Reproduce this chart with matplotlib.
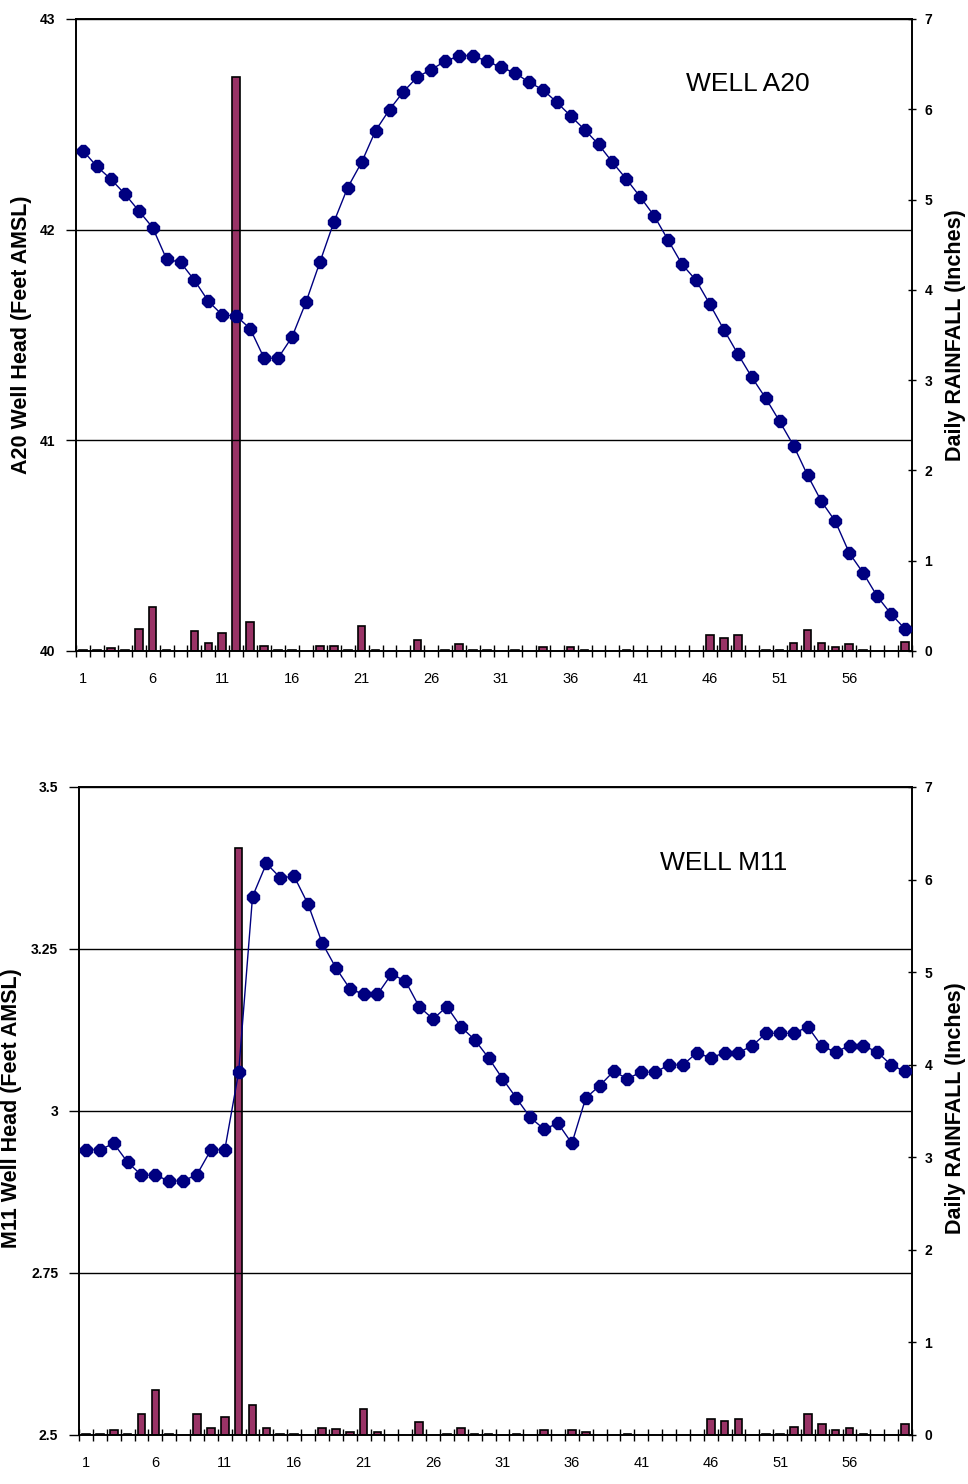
"""
Well head vs daily rainfall, wells A20 and M11 (two stacked Excel-style panels).
"""
import numpy as np
import matplotlib
matplotlib.use("Agg")
import matplotlib.pyplot as plt

plt.rcParams["font.family"] = ["Liberation Sans", "DejaVu Sans"]

days = np.arange(1, 61)

a20_head = [42.375, 42.30, 42.24, 42.17, 42.09, 42.01, 41.86, 41.845, 41.76, 41.66,
            41.595, 41.59, 41.53, 41.39, 41.39, 41.49, 41.655, 41.845, 42.035, 42.20,
            42.32, 42.47, 42.57, 42.655, 42.725, 42.76, 42.80, 42.825, 42.825, 42.80,
            42.77, 42.745, 42.70, 42.665, 42.605, 42.54, 42.475, 42.405, 42.32, 42.24,
            42.155, 42.065, 41.95, 41.835, 41.76, 41.645, 41.525, 41.41, 41.30, 41.20,
            41.09, 40.975, 40.835, 40.71, 40.615, 40.465, 40.37, 40.26, 40.175, 40.105]

a20_rain = [0.01, 0.01, 0.03, 0.01, 0.24, 0.49, 0.01, 0, 0.22, 0.085,
            0.20, 6.36, 0.32, 0.06, 0.01, 0.01, 0, 0.06, 0.05, 0.01,
            0.28, 0.01, 0, 0, 0.12, 0, 0.01, 0.08, 0.01, 0.01,
            0, 0.01, 0, 0.04, 0, 0.04, 0.01, 0, 0, 0.01,
            0, 0, 0, 0, 0, 0.18, 0.14, 0.18, 0, 0.01,
            0.01, 0.09, 0.23, 0.09, 0.04, 0.08, 0.01, 0, 0, 0.10]

m11_head = [2.940, 2.940, 2.950, 2.921, 2.901, 2.901, 2.892, 2.892, 2.902, 2.940,
            2.940, 3.060, 3.331, 3.382, 3.360, 3.362, 3.319, 3.260, 3.221, 3.189,
            3.180, 3.180, 3.211, 3.201, 3.161, 3.142, 3.161, 3.130, 3.110, 3.082,
            3.050, 3.020, 2.990, 2.972, 2.981, 2.950, 3.020, 3.039, 3.061, 3.050,
            3.060, 3.060, 3.071, 3.071, 3.090, 3.082, 3.090, 3.090, 3.101, 3.120,
            3.120, 3.120, 3.130, 3.100, 3.091, 3.101, 3.101, 3.091, 3.071, 3.061]

m11_rain = [0.01, 0.01, 0.05, 0.01, 0.23, 0.49, 0.01, 0, 0.23, 0.075,
            0.19, 6.34, 0.32, 0.075, 0.01, 0.01, 0, 0.075, 0.06, 0.035,
            0.28, 0.035, 0, 0, 0.14, 0, 0.01, 0.075, 0.01, 0.01,
            0, 0.01, 0, 0.05, 0, 0.05, 0.035, 0, 0, 0.01,
            0, 0, 0, 0, 0, 0.17, 0.15, 0.17, 0, 0.01,
            0.01, 0.09, 0.23, 0.115, 0.05, 0.075, 0.01, 0, 0, 0.115]

xlabels = [1, 6, 11, 16, 21, 26, 31, 36, 41, 46, 51, 56]

panels = [
    dict(rect=[76/968, 1-651/1484, 836/968, 632/1484], head=a20_head, rain=a20_rain,
         ylim=(40, 43), yticks=[40, 41, 42, 43], ytl=["40", "41", "42", "43"],
         ylabel="A20 Well Head (Feet AMSL)", ylx=22, yrx=956, ly=335,
         title="WELL A20", tx=748, ty=84),
    dict(rect=[79/968, 1-1435/1484, 833/968, 648/1484], head=m11_head, rain=m11_rain,
         ylim=(2.5, 3.5), yticks=[2.5, 2.75, 3.0, 3.25, 3.5],
         ytl=["2.5", "2.75", "3", "3.25", "3.5"],
         ylabel="M11 Well Head (Feet AMSL)", ylx=12, yrx=956, ly=1108,
         title="WELL M11", tx=724, ty=863),
]

fig = plt.figure(figsize=(9.68, 14.84), dpi=100)

for p in panels:
    ax = fig.add_axes(p["rect"])
    ax2 = ax.twinx()
    ax.set_zorder(ax2.get_zorder() + 1)
    ax.patch.set_visible(False)

    # rainfall bars (behind the head line)
    rain = np.array(p["rain"])
    m = rain > 0
    ax2.bar(days[m], rain[m], width=0.55, color="#993366", edgecolor="black", linewidth=1.2)
    ax2.set_ylim(0, 7)
    ax2.set_yticks(range(8))
    ax2.set_yticklabels([str(i) for i in range(8)], fontsize=10, fontweight="bold")
    ax2.tick_params(axis="y", direction="inout", length=6, width=1, pad=6)

    # well head line
    ax.plot(days, p["head"], color="#000080", lw=1.0, marker="8", ms=9,
            mfc="#000080", mec="#000080", zorder=3)
    ax.set_xlim(0.5, 60.5)
    ax.set_ylim(*p["ylim"])
    ax.set_yticks(p["yticks"])
    ax.set_yticklabels(p["ytl"], fontsize=10, fontweight="bold")
    ax.tick_params(axis="y", direction="out", length=7, width=1, pad=8)
    ax.grid(axis="y", color="black", lw=1.0)
    ax.set_axisbelow(False)

    ax.set_xticks(xlabels)
    ax.set_xticklabels([str(v) for v in xlabels], fontsize=10.5)
    ax.set_xticks(np.arange(0.5, 61, 1), minor=True)
    ax.tick_params(axis="x", which="major", length=0, pad=15)
    ax.tick_params(axis="x", which="minor", direction="inout", length=9, width=1)

    for a in (ax, ax2):
        for s in a.spines.values():
            s.set_color("black")
            s.set_linewidth(1.2)

    fig.text(p["ylx"]/968, 1 - p["ly"]/1484, p["ylabel"], rotation=90, ha="center",
             va="center", fontsize=15.5, fontweight="bold")
    fig.text(p["yrx"]/968, 1 - p["ly"]/1484, "Daily RAINFALL (Inches)", rotation=90,
             ha="center", va="center", fontsize=15.5, fontweight="bold")
    fig.text(p["tx"]/968, 1 - p["ty"]/1484, p["title"], ha="center", va="center",
             fontsize=19)

fig.savefig("out.png", dpi=100)
